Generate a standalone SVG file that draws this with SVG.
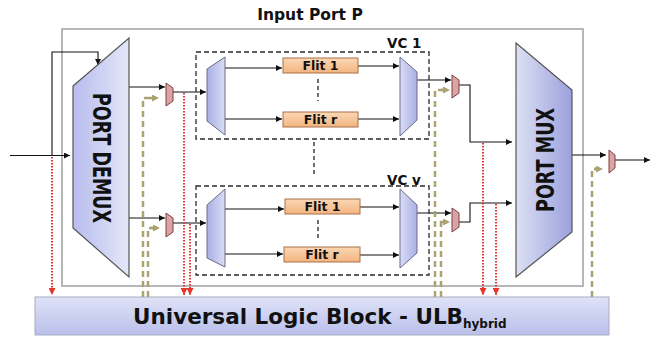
<svg xmlns="http://www.w3.org/2000/svg" width="654" height="337" viewBox="0 0 654 337">
<defs>
<linearGradient id="gDemux" x1="0" y1="0" x2="1" y2="0"><stop offset="0" stop-color="#b7bced"/><stop offset="1" stop-color="#e4e7f8"/></linearGradient>
<linearGradient id="gMux" x1="0" y1="0" x2="1" y2="0"><stop offset="0" stop-color="#dde0f4"/><stop offset="1" stop-color="#9ba1dd"/></linearGradient>
<linearGradient id="gSmall" x1="0" y1="0" x2="1" y2="0"><stop offset="0" stop-color="#a9afe3"/><stop offset="1" stop-color="#d9ddf6"/></linearGradient>
<linearGradient id="gSmallR" x1="0" y1="0" x2="1" y2="0"><stop offset="0" stop-color="#d9ddf6"/><stop offset="1" stop-color="#a9afe3"/></linearGradient>
<linearGradient id="gFlit" x1="0" y1="0" x2="0" y2="1"><stop offset="0" stop-color="#fbd7b4"/><stop offset="1" stop-color="#f3b480"/></linearGradient>
<linearGradient id="gUlb" x1="0" y1="0" x2="0" y2="1"><stop offset="0" stop-color="#dfe3f7"/><stop offset="1" stop-color="#b9bfea"/></linearGradient>
<marker id="ab" viewBox="0 0 10 10" refX="10" refY="5" markerWidth="7" markerHeight="6" markerUnits="userSpaceOnUse" orient="auto"><path d="M0,0 L10,5 L0,10 z" fill="#111"/></marker>
<marker id="ar" viewBox="0 0 10 10" refX="10" refY="5" markerWidth="7" markerHeight="7" markerUnits="userSpaceOnUse" orient="auto"><path d="M0,0 L10,5 L0,10 z" fill="#e8342c"/></marker>
<marker id="ao" viewBox="0 0 10 10" refX="10" refY="5" markerWidth="7" markerHeight="7" markerUnits="userSpaceOnUse" orient="auto"><path d="M0,0 L10,5 L0,10 z" fill="#aaa272"/></marker>
</defs>
<style>
.t{font-family:"DejaVu Sans","Liberation Sans",sans-serif;font-weight:bold;fill:#111}
.big{stroke:#555;stroke-width:1.2}
.sm{stroke:#6a6a8a;stroke-width:1}
.pk{fill:#dba3a3;stroke:#7a4040;stroke-width:1}
.flit{fill:url(#gFlit);stroke:#a87048;stroke-width:1}
.vc{fill:none;stroke:#2a2a2a;stroke-width:1.3;stroke-dasharray:5 3}
.c{fill:none;stroke:#111;stroke-width:1.1}
.ca{marker-end:url(#ab)}
.red{fill:none;stroke:#e8342c;stroke-width:2;stroke-dasharray:1.6 1.4;marker-end:url(#ar)}
.ol{fill:none;stroke:#aaa272;stroke-width:2.5;stroke-dasharray:6 4}
.ola{marker-end:url(#ao)}
.dd{fill:none;stroke:#222;stroke-width:1.3;stroke-dasharray:4 3}
</style>

<g id="input-port">
<rect x="62" y="29" width="521" height="257" fill="none" stroke="#a6a6a6" stroke-width="1.6"/>
<text class="t" x="310" y="20" font-size="15.5" text-anchor="middle">Input Port P</text>
</g>

<g id="ulb">
<rect x="35" y="297" width="574" height="38" fill="url(#gUlb)" stroke="#a8acc4" stroke-width="1"/>
<text class="t" x="133" y="324" font-size="21.5">Universal Logic Block - ULB<tspan font-size="12" dy="4">hybrid</tspan></text>
</g>

<g id="connectors">
<path class="c ca" d="M10,155.5 H70"/>
<path class="c ca" d="M52,155.5 V52 H98 V65"/>
<path class="red" d="M52,157 V295"/>
<path class="c ca" d="M129,87 H165"/>
<path class="c ca" d="M129,218 H165"/>
<path class="c ca" d="M173,92 H206"/>
<path class="c ca" d="M173,223 H206"/>
<path class="red" d="M184,93 V295"/>
<path class="red" d="M190,224 V295"/>
<path class="ol" d="M143,297 V98 H155"/>
<path class="ol ola" d="M150,98 H159"/>
<path class="ol" d="M148,297 V228 H155"/>
<path class="ol ola" d="M151,228 H160"/>
<path class="c ca" d="M225,68 H282"/>
<path class="c ca" d="M225,119 H282"/>
<path class="c ca" d="M358,66 H399"/>
<path class="c ca" d="M358,119 H399"/>
<path class="c ca" d="M225,209 H284"/>
<path class="c ca" d="M225,254 H283"/>
<path class="c ca" d="M360,207 H399"/>
<path class="c ca" d="M360,255 H399"/>
<path class="c ca" d="M417,80 H451"/>
<path class="c ca" d="M459,85 H470 V142 H512"/>
<path class="c ca" d="M417,213 H451"/>
<path class="c ca" d="M459,222 H470 V203 H512"/>
<path class="red" d="M483,143 V295"/>
<path class="red" d="M496,204 V295"/>
<path class="ol" d="M435,297 V90 H444"/>
<path class="ol ola" d="M441,90 H450"/>
<path class="ol" d="M441,297 V222 H444"/>
<path class="ol ola" d="M442,222 H450"/>
<path class="c ca" d="M572,155 H606"/>
<path class="c ca" d="M615,160 H650"/>
<path class="ol" d="M592,297 V169 H596"/>
<path class="ol ola" d="M594,169 H603"/>
<path class="dd" d="M314,142 V174"/>
</g>

<g id="port-demux">
<polygon class="big" points="73,86 129,38 129,277 73,228" fill="url(#gDemux)"/>
<text class="t" transform="translate(102,158) rotate(90)" font-size="24" text-anchor="middle" dy="0.36em" textLength="130" lengthAdjust="spacingAndGlyphs">PORT DEMUX</text>
</g>

<g id="port-mux">
<polygon class="big" points="516,43 572,90 572,232 516,277" fill="url(#gMux)"/>
<text class="t" transform="translate(545,160) rotate(-90)" font-size="24" text-anchor="middle" dy="0.36em" textLength="104" lengthAdjust="spacingAndGlyphs">PORT MUX</text>
</g>

<g id="mux-in-1"><polygon class="pk" points="166,83 173,88 173,101 166,106"/></g>
<g id="mux-in-2"><polygon class="pk" points="166,213 173,218 173,232 166,237"/></g>
<g id="mux-out-1"><polygon class="pk" points="452,75 459,80 459,93 452,98"/></g>
<g id="mux-out-2"><polygon class="pk" points="452,208 459,213 459,227 452,232"/></g>
<g id="mux-port"><polygon class="pk" points="609,150 615,155 615,168 609,173"/></g>

<g id="vc-1">
<rect class="vc" x="196" y="52" width="233" height="87"/>
<text class="t" x="387" y="48" font-size="13.5">VC 1</text>
<polygon class="sm" points="207,69 225,57 225,135 207,121" fill="url(#gSmall)"/>
<polygon class="sm" points="400,57 417,72 417,120 400,136" fill="url(#gSmallR)"/>
<g id="vc1-flit1"><rect class="flit" x="283" y="58" width="75" height="15"/><text class="t" x="320.5" y="70" font-size="12.5" text-anchor="middle">Flit 1</text></g>
<g id="vc1-flitr"><rect class="flit" x="283" y="112" width="75" height="15"/><text class="t" x="320.5" y="124" font-size="12.5" text-anchor="middle">Flit r</text></g>
<path class="dd" d="M318,79 V101"/>
</g>

<g id="vc-v">
<rect class="vc" x="196" y="186" width="233" height="89"/>
<text class="t" x="387" y="185" font-size="13.5">VC v</text>
<polygon class="sm" points="207,205 225,189 225,267 207,258" fill="url(#gSmall)"/>
<polygon class="sm" points="400,189 417,205 417,253 400,268" fill="url(#gSmallR)"/>
<g id="vcv-flit1"><rect class="flit" x="285" y="199" width="75" height="15"/><text class="t" x="322.5" y="211" font-size="12.5" text-anchor="middle">Flit 1</text></g>
<g id="vcv-flitr"><rect class="flit" x="284" y="247" width="76" height="15"/><text class="t" x="322" y="259" font-size="12.5" text-anchor="middle">Flit r</text></g>
<path class="dd" d="M318,220 V241"/>
</g>
</svg>
